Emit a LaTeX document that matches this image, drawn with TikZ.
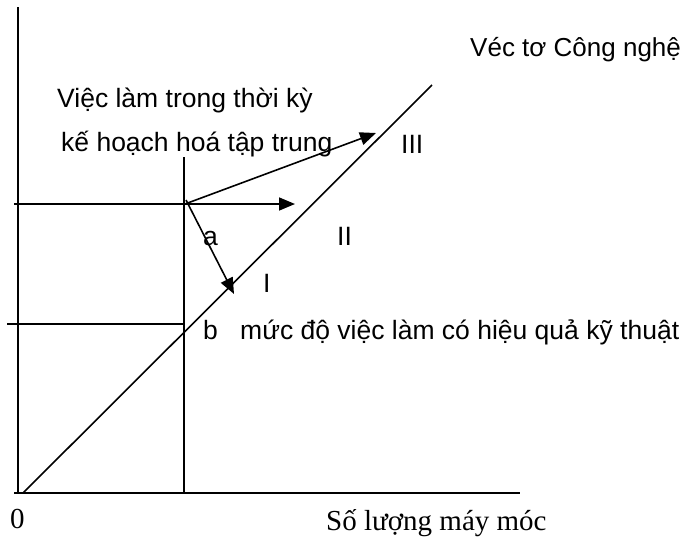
\documentclass[tikz,border=0pt]{standalone}
\usepackage{fontspec}
\setmainfont{Liberation Serif}
\newfontfamily\arialf{Liberation Sans}
\usetikzlibrary{arrows.meta}
\begin{document}
\begin{tikzpicture}[x=1pt,y=-1pt,
  ln/.style={line width=1.6pt},
  arr/.style={line width=1.6pt,-{Triangle[length=16pt,width=13pt]}},
  lbl/.style={inner sep=0pt,anchor=base west,font=\arialf\fontsize{26.5}{30}\selectfont},
  slbl/.style={inner sep=0pt,anchor=base west,font=\fontsize{29}{34}\selectfont}]
\useasboundingbox (0,0) rectangle (691,539);
% coordinates
\coordinate (ytop) at (18,7);
\coordinate (orig) at (18,493);
\coordinate (xl) at (14,493);
\coordinate (xr) at (520,493);
\coordinate (d0) at (23,493);
\coordinate (d1) at (432,85);
\coordinate (vt) at (184,157);
\coordinate (vb) at (184,493);
\coordinate (h1l) at (14,204);
\coordinate (P) at (185,204);
\coordinate (h2l) at (7,324);
\coordinate (B) at (184,324);
\coordinate (tIII) at (376,133);
\coordinate (tII) at (295,204);
\coordinate (tI) at (234,294);
% axes and lines
\draw[ln] (ytop) -- (orig);
\draw[ln] (xl) -- (xr);
\draw[ln] (d0) -- (d1);
\draw[ln] (vt) -- (vb);
\draw[ln] (h1l) -- (P);
\draw[ln] (h2l) -- (B);
% arrows
\draw[arr] (P) -- (tIII);
\draw[arr] (P) -- (tII);
\draw[arr] (186,200) -- (tI);
% labels
\node[lbl] (l1) at (57,107) {Việc làm trong thời kỳ};
\node[lbl] (l2) at (61,151) {kế hoạch hoá tập trung};
\node[lbl,font=\arialf\fontsize{26}{30}\selectfont] (vec) at (470,56) {Véc tơ Công nghệ};
\node[lbl] (III) at (401,153) {III};
\node[lbl] (II) at (337,245) {II};
\node[lbl] (a) at (203,245) {a};
\node[lbl] (I) at (263,292) {I};
\node[lbl] (b) at (203,339) {b};
\node[lbl] (muc) at (240,339) {mức độ việc làm có hiệu quả kỹ thuật};
\node[slbl] (zero) at (10,528) {0};
\node[slbl] (sl) at (326,530) {Số lượng máy móc};
\end{tikzpicture}
\end{document}
